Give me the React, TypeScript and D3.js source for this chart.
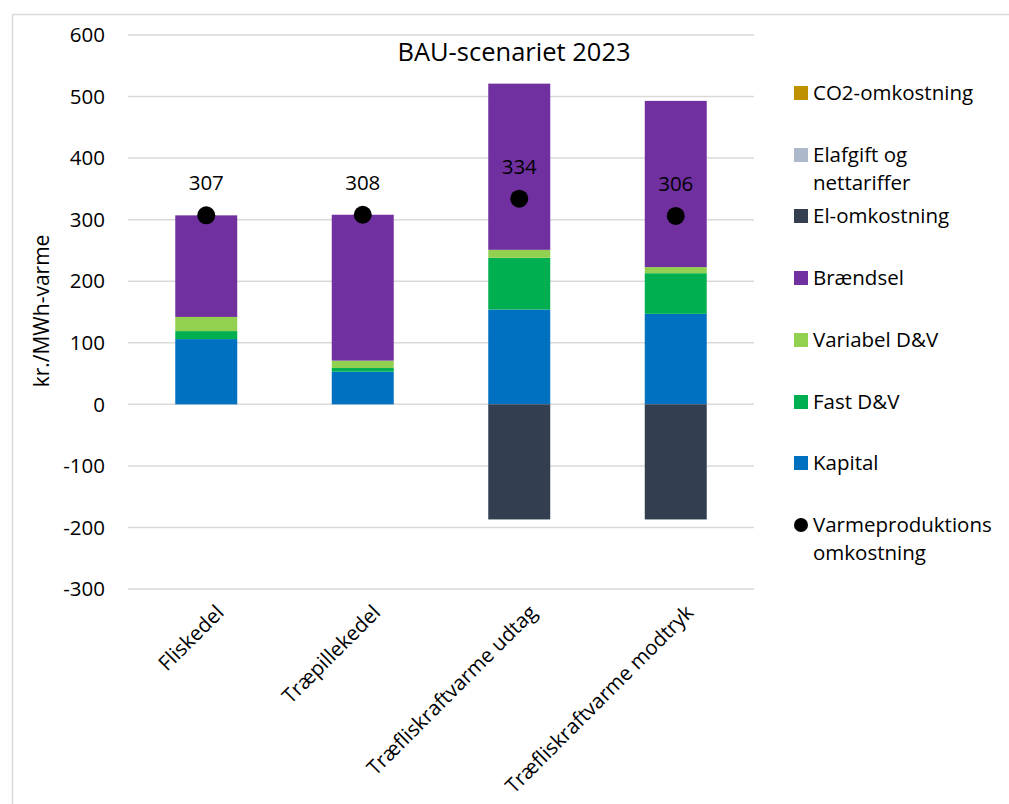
import React from "react";
import * as d3 from "d3";

const categories = ["Fliskedel", "Træpillekedel", "Træfliskraftvarme udtag", "Træfliskraftvarme modtryk"];
const kapital = [106, 53, 154, 147];
const fastDV = [13, 6, 84, 66];
const variabelDV = [23, 12, 13, 10];
const braendsel = [165, 237, 270, 270];
const elOmkostning = [0, 0, -187, -187];
const elafgift = [0, 0, 0, 0];
const co2 = [0, 0, 0, 0];
const varmeproduktion = [307, 308, 334, 306];
const yTicks = [-300, -200, -100, 0, 100, 200, 300, 400, 500, 600];

const seriesDefs = [
  { key: "Kapital", values: kapital, color: "#0070C0" },
  { key: "Fast D&V", values: fastDV, color: "#00B050" },
  { key: "Variabel D&V", values: variabelDV, color: "#92D050" },
  { key: "Brændsel", values: braendsel, color: "#7030A0" },
  { key: "El-omkostning", values: elOmkostning, color: "#333F50" },
  { key: "Elafgift og nettariffer", values: elafgift, color: "#ADB9CA" },
  { key: "CO2-omkostning", values: co2, color: "#BF9000" },
];

const legendItems = [
  { lines: ["CO2-omkostning"], color: "#BF9000", y: 93 },
  { lines: ["Elafgift og", "nettariffer"], color: "#ADB9CA", y: 155 },
  { lines: ["El-omkostning"], color: "#333F50", y: 216 },
  { lines: ["Brændsel"], color: "#7030A0", y: 278 },
  { lines: ["Variabel D&V"], color: "#92D050", y: 340 },
  { lines: ["Fast D&V"], color: "#00B050", y: 402 },
  { lines: ["Kapital"], color: "#0070C0", y: 463 },
];

const FONT = "'Open Sans', Calibri, sans-serif";

export default function App() {
  const x = d3.scaleBand<string>().domain(categories).range([128, 754]).paddingInner(0.604).paddingOuter(0.302);
  const y = d3.scaleLinear().domain([-300, 600]).range([589, 35]);

  const table = categories.map((c, i) => {
    const row: any = { cat: c };
    seriesDefs.forEach((s) => (row[s.key] = s.values[i]));
    return row;
  });
  const stacked = d3
    .stack<any>()
    .keys(seriesDefs.map((s) => s.key))
    .offset(d3.stackOffsetDiverging)(table);

  const bw = x.bandwidth();

  return (
    <svg width={1009} height={804} style={{ position: "absolute", left: 0, top: 0, background: "#fff" }} fontFamily={FONT}>
      <rect x={12.5} y={14.5} width={1010} height={800} fill="#fff" stroke="#D9D9D9" strokeWidth={1.5} />
      {yTicks.map((t) => (
        <g key={t}>
          <line x1={128} x2={754} y1={y(t)} y2={y(t)} stroke="#D9D9D9" strokeWidth={1.5} />
          <text x={105} y={y(t)} dy="0.35em" textAnchor="end" fontSize={20.5} fill="#000">
            {t}
          </text>
        </g>
      ))}
      <text transform={`translate(49, 311) rotate(-90)`} textAnchor="middle" fontSize={21} fill="#000">
        kr./MWh-varme
      </text>
      <text x={514} y={61} textAnchor="middle" fontSize={25.5} fill="#000">
        BAU-scenariet 2023
      </text>
      {stacked.map((layer, li) => (
        <g key={layer.key} fill={seriesDefs[li].color}>
          {layer.map((d, i) =>
            d[1] - d[0] === 0 ? null : (
              <rect
                key={i}
                x={x(categories[i])}
                width={bw}
                y={y(Math.max(d[0], d[1]))}
                height={Math.abs(y(d[0]) - y(d[1]))}
              />
            )
          )}
        </g>
      ))}
      {categories.map((c, i) => {
        const cx = (x(c) as number) + bw / 2;
        const cy = y(varmeproduktion[i]);
        return (
          <g key={c}>
            <circle cx={cx} cy={cy} r={9} fill="#000" />
            <text x={cx} y={cy - 25} textAnchor="middle" fontSize={20.5} fill="#000">
              {varmeproduktion[i]}
            </text>
          </g>
        );
      })}
      {categories.map((c) => {
        const cx = (x(c) as number) + bw / 2;
        return (
          <text
            key={c}
            transform={`translate(${cx + 8}, 603) rotate(-45)`}
            textAnchor="end"
            dy="0.75em"
            fontSize={20.5}
            fill="#000"
          >
            {c}
          </text>
        );
      })}
      {legendItems.map((it) => (
        <g key={it.lines[0]}>
          <rect x={794} y={it.y - 7} width={14} height={14} fill={it.color} />
          {it.lines.map((l, k) => (
            <text key={k} x={813} y={it.y + k * 28} dy="0.35em" fontSize={20.5} fill="#000">
              {l}
            </text>
          ))}
        </g>
      ))}
      <g>
        <circle cx={801} cy={525} r={7} fill="#000" />
        <text x={813} y={525} dy="0.35em" fontSize={20.5} fill="#000">
          Varmeproduktions
        </text>
        <text x={813} y={553} dy="0.35em" fontSize={20.5} fill="#000">
          omkostning
        </text>
      </g>
    </svg>
  );
}
